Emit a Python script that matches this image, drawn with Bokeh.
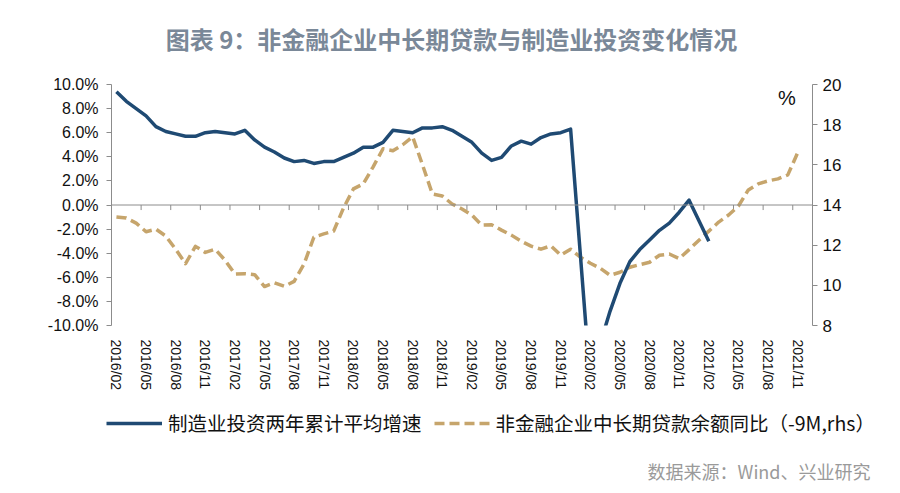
from bokeh.plotting import figure
from bokeh.layouts import column
from bokeh.models import (Range1d, LinearAxis, FixedTicker, PrintfTickFormatter, Span, Label,
                          Legend, LegendItem, ColumnDataSource)
from bokeh.embed import file_html
from bokeh.resources import INLINE

categories = [
    "2016/02", "2016/03", "2016/04", "2016/05", "2016/06", "2016/07", "2016/08", "2016/09", "2016/10", "2016/11", "2016/12",
    "2017/01", "2017/02", "2017/03", "2017/04", "2017/05", "2017/06", "2017/07", "2017/08", "2017/09", "2017/10", "2017/11", "2017/12",
    "2018/01", "2018/02", "2018/03", "2018/04", "2018/05", "2018/06", "2018/07", "2018/08", "2018/09", "2018/10", "2018/11", "2018/12",
    "2019/01", "2019/02", "2019/03", "2019/04", "2019/05", "2019/06", "2019/07", "2019/08", "2019/09", "2019/10", "2019/11", "2019/12",
    "2020/01", "2020/02", "2020/03", "2020/04", "2020/05", "2020/06", "2020/07", "2020/08", "2020/09", "2020/10", "2020/11", "2020/12",
    "2021/01", "2021/02", "2021/03", "2021/04", "2021/05", "2021/06", "2021/07", "2021/08", "2021/09", "2021/10", "2021/11", "2021/12",
]

# 制造业投资两年累计平均增速 (%), left axis; None = no data
manufacturing = [
    9.4, 8.6, 8.0, 7.4, 6.5, 6.1, 5.9, 5.7, 5.7, 6.0, 6.1,
    None, 5.9, 6.2, 5.4, 4.8, 4.4, 3.9, 3.6, 3.7, 3.45, 3.6, 3.6,
    None, 4.3, 4.8, 4.8, 5.2, 6.2, 6.1, 6.0, 6.4, 6.4, 6.5, 6.2,
    None, 5.2, 4.3, 3.7, 3.95, 4.9, 5.3, 5.05, 5.6, 5.9, 6.0, 6.3,
    None, -14.8, -11.5, -8.8, -6.5, -4.7, -3.7, -2.9, -2.1, -1.5, -0.6, 0.4,
    None, -3.0, None, None, None, None, None, None, None, None, None, None,
]

# 非金融企业中长期贷款余额同比 (-9M, rhs), right axis
loans = [
    13.4, 13.35, 13.1, 12.67, 12.8, 12.45, 11.8, 11.08, 11.94, 11.64, 11.8,
    11.25, 10.56, 10.58, 10.53, 9.94, 10.13, 9.95, 10.2, 11.06, 12.4, 12.56, 12.7,
    13.85, 14.8, 15.05, 15.9, 16.8, 16.7, 17.0, 17.4, 16.0, 14.55, 14.45, 14.05,
    13.8, 13.5, 13.0, 13.02, 12.75, 12.5, 12.2, 11.95, 11.8, 11.97, 11.5, 11.8,
    11.4, 11.1, 10.85, 10.5, 10.65, 10.9, 11.03, 11.15, 11.5, 11.56, 11.33, 11.78,
    12.25, 12.7, 13.15, 13.5, 13.95, 14.75, 15.05, 15.2, 15.3, 15.5, 16.6, None,
]

left_ticks = [-10, -8, -6, -4, -2, 0, 2, 4, 6, 8, 10]
right_ticks = [8, 10, 12, 14, 16, 18, 20]
label_step = 3

title_text = "图表 9：非金融企业中长期贷款与制造业投资变化情况"
name_m = "制造业投资两年累计平均增速"
name_l = "非金融企业中长期贷款余额同比（-9M,rhs）"
source_text = "数据来源：Wind、兴业研究"

BLUE = "#1f4a73"
TAN = "#c6a56c"
AXIS = "#8c8c8c"
CJK = "Noto Sans CJK SC"
W = 884
H_TOP, H_MAIN, H_BOT = 70, 330, 88
NAN = float("nan")


def blank(h):
    f = figure(width=W, height=h, output_backend="svg", toolbar_location=None,
               x_range=Range1d(0, W), y_range=Range1d(h, 0), min_border=0,
               x_axis_location=None, y_axis_location=None, frame_align=False)
    f.outline_line_color = None
    f.grid.visible = False
    f.background_fill_color = "white"
    f.border_fill_color = "white"
    return f


# ---- title strip
pt = blank(H_TOP)
pt.add_layout(Label(x=451, y=38, text=title_text, text_align="center", text_baseline="middle",
                    text_font=CJK, text_font_size="24px", text_font_style="bold",
                    text_color="#7a8898"))

# ---- main chart
n = len(categories)
m_src = ColumnDataSource(dict(
    x=[i for i, v in enumerate(manufacturing) if v is not None],
    y=[v for v in manufacturing if v is not None]))
l_src = ColumnDataSource(dict(
    x=[i for i, v in enumerate(loans) if v is not None],
    y=[v for v in loans if v is not None]))

p = figure(width=W, height=H_MAIN, output_backend="svg", toolbar_location=None,
           x_range=Range1d(-0.5, n - 0.5), y_range=Range1d(-10, 10),
           min_border_left=111, min_border_right=72, min_border_top=14, min_border_bottom=75,
           x_axis_location=None, y_axis_location=None, frame_align=False)
p.outline_line_color = None
p.grid.visible = False
p.background_fill_color = "white"
p.border_fill_color = "white"
p.extra_y_ranges = {"right": Range1d(8, 20)}

la = LinearAxis(ticker=FixedTicker(ticks=left_ticks), formatter=PrintfTickFormatter(format="%.1f%%"))
la.axis_line_color = AXIS
la.major_tick_line_color = AXIS
la.major_tick_out = 5
la.major_tick_in = 0
la.minor_tick_line_color = None
la.major_label_text_font = "Liberation Sans"
la.major_label_text_font_size = "16px"
la.major_label_text_color = "#111111"
la.major_label_standoff = 8
p.add_layout(la, "left")

ra = LinearAxis(y_range_name="right", ticker=FixedTicker(ticks=right_ticks))
ra.axis_line_color = AXIS
ra.major_tick_line_color = AXIS
ra.major_tick_out = 5
ra.major_tick_in = 0
ra.minor_tick_line_color = None
ra.major_label_text_font = "Liberation Sans"
ra.major_label_text_font_size = "17px"
ra.major_label_text_color = "#111111"
ra.major_label_standoff = 5
p.add_layout(ra, "right")

label_idx = list(range(0, n, label_step))
ba = LinearAxis(ticker=FixedTicker(ticks=label_idx),
                major_label_overrides={i: categories[i] for i in label_idx})
ba.axis_line_color = None
ba.major_tick_line_color = None
ba.minor_tick_line_color = None
ba.major_label_orientation = "vertical"
ba.major_label_text_font = "Liberation Sans"
ba.major_label_text_font_size = "14px"
ba.major_label_text_color = "#111111"
ba.major_label_standoff = 8
p.add_layout(ba, "below")

p.add_layout(Span(location=0, dimension="width", line_color=AXIS, line_width=1))
bounds = [i - 0.5 for i in label_idx]
p.segment(x0=bounds, y0=[0] * len(bounds), x1=bounds, y1=[-0.42] * len(bounds),
          line_color=AXIS, line_width=1)

p.line("x", "y", source=l_src, y_range_name="right", line_color=TAN, line_width=3.5,
       line_dash="10 5", line_join="round")
p.line("x", "y", source=m_src, line_color=BLUE, line_width=3.5, line_join="round")

p.add_layout(Label(x=67.9, y=19.35, y_range_name="right", text="%", text_align="center",
                   text_baseline="middle", text_font="Liberation Sans", text_font_size="20px",
                   text_color="#111111"))

# ---- legend + source strip (legend keys use invisible NaN lines of the same style)
pb = blank(H_BOT)
g_m = pb.line(x=[NAN, NAN], y=[NAN, NAN], line_color=BLUE, line_width=3.5)
g_l = pb.line(x=[NAN, NAN], y=[NAN, NAN], line_color=TAN, line_width=3.5, line_dash="10 5")
legend = Legend(items=[LegendItem(label=name_m, renderers=[g_m]),
                       LegendItem(label=name_l, renderers=[g_l])],
                orientation="horizontal", location=(106, 51))
legend.label_text_font = CJK
legend.label_text_font_size = "19.5px"
legend.label_text_color = "#111111"
legend.glyph_width = 56
legend.label_standoff = 6
legend.spacing = 12
legend.padding = 0
legend.margin = 0
legend.border_line_color = None
legend.background_fill_alpha = 0
pb.add_layout(legend, "center")
pb.add_layout(Label(x=870, y=70, text=source_text, text_align="right", text_baseline="middle",
                    text_font=CJK, text_font_size="18px", text_color="#9a9a9a"))

layout = column(pt, p, pb, spacing=0)
open("out.html", "w").write(file_html(layout, INLINE))
